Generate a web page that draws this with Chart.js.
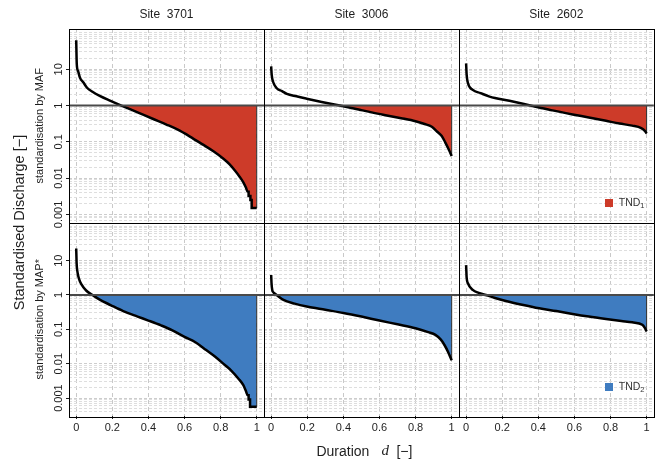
<!DOCTYPE html>
<html>
<head>
<meta charset="utf-8">
<script src="https://cdn.jsdelivr.net/npm/chart.js@4.4.1/dist/chart.umd.min.js"></script>
<style>
  html, body { margin: 0; padding: 0; background: #fff; }
  #wrap { width: 657px; height: 462px; }
</style>
</head>
<body>
<div id="wrap"><canvas id="fdc" width="657" height="462"></canvas></div>
<script>
// columns and rows of the grid
const sites = ["3701", "3006", "2602"];
const rowLabels = ["standardisation by MAF", "standardisation by MAP*"];
const legendLabels = ["TND", "TND"];
const legendSubs = ["1", "2"];

// flow duration curves, standardised by MAF (top row)
const d3701maf = [0, 0.003, 0.01, 0.021, 0.04, 0.06, 0.09, 0.13, 0.19, 0.25, 0.34, 0.42, 0.5, 0.56, 0.63, 0.7, 0.76, 0.81, 0.85, 0.88, 0.905, 0.925, 0.94, 0.95, 0.955, 0.955, 0.965, 0.965, 0.972, 0.972, 1.0];
const q3701maf = [63, 14, 9, 5.8, 4.3, 3.1, 2.4, 1.85, 1.35, 1.0, 0.65, 0.44, 0.3, 0.22, 0.14, 0.085, 0.055, 0.036, 0.024, 0.016, 0.011, 0.0078, 0.0055, 0.0042, 0.0042, 0.0032, 0.0032, 0.0025, 0.0025, 0.0015, 0.0015];

const d3006maf = [0, 0.003, 0.01, 0.031, 0.06, 0.087, 0.14, 0.197, 0.28, 0.38, 0.5, 0.62, 0.72, 0.8, 0.85, 0.89, 0.92, 0.945, 0.965, 0.985, 1.0];
const q3006maf = [12, 7, 4.6, 3.0, 2.5, 2.1, 1.8, 1.55, 1.26, 1.0, 0.75, 0.56, 0.45, 0.37, 0.31, 0.26, 0.19, 0.145, 0.095, 0.06, 0.041];

const d2602maf = [0, 0.003, 0.01, 0.037, 0.08, 0.13, 0.24, 0.35, 0.47, 0.59, 0.68, 0.775, 0.85, 0.92, 0.97, 0.99, 1.0];
const q2602maf = [14.5, 7, 4.2, 2.7, 2.2, 1.77, 1.35, 1.02, 0.75, 0.57, 0.47, 0.38, 0.32, 0.28, 0.24, 0.2, 0.17];

// flow duration curves, standardised by MAP* (bottom row)
const d3701map = [0, 0.002, 0.006, 0.015, 0.03, 0.055, 0.09, 0.13, 0.19, 0.26, 0.34, 0.4, 0.47, 0.53, 0.6, 0.66, 0.72, 0.77, 0.82, 0.86, 0.9, 0.925, 0.94, 0.95, 0.955, 0.955, 0.963, 0.963, 1.0];
const q3701map = [22.6, 9, 5, 3.0, 2.0, 1.35, 1.0, 0.73, 0.51, 0.34, 0.235, 0.18, 0.13, 0.095, 0.06, 0.042, 0.025, 0.016, 0.0095, 0.0062, 0.0036, 0.0024, 0.0016, 0.0012, 0.0012, 0.0009, 0.0009, 0.00056, 0.00056];

const d3006map = [0, 0.002, 0.006, 0.015, 0.03, 0.068, 0.13, 0.197, 0.3, 0.4, 0.5, 0.6, 0.7, 0.8, 0.87, 0.91, 0.94, 0.96, 0.98, 1.0];
const q3006map = [3.8, 2.2, 1.4, 1.15, 1.0, 0.72, 0.56, 0.46, 0.37, 0.3, 0.235, 0.18, 0.14, 0.108, 0.083, 0.069, 0.05, 0.035, 0.022, 0.0125];

const d2602map = [0, 0.003, 0.01, 0.037, 0.07, 0.11, 0.16, 0.22, 0.31, 0.405, 0.5, 0.59, 0.68, 0.775, 0.86, 0.92, 0.976, 0.99, 1.0];
const q2602map = [7.4, 3.2, 2.2, 1.4, 1.15, 1.0, 0.82, 0.67, 0.52, 0.41, 0.34, 0.28, 0.235, 0.2, 0.175, 0.16, 0.135, 0.11, 0.087];

// axis ticks
const durationTicks = [0, 0.2, 0.4, 0.6, 0.8, 1];
const decadeTicks = [0.001, 0.01, 0.1, 1, 10];

const fills = ["#cd3b29", "#3f7cc0"];
const font = "Liberation Sans";
const ink = "#1e1e1e";

const panels = [
  { col: 0, row: 0, d: d3701maf, q: q3701maf },
  { col: 1, row: 0, d: d3006maf, q: q3006maf },
  { col: 2, row: 0, d: d2602maf, q: q2602maf },
  { col: 0, row: 1, d: d3701map, q: q3701map },
  { col: 1, row: 1, d: d3006map, q: q3006map },
  { col: 2, row: 1, d: d2602map, q: q2602map }
];

const datasets = [];
panels.forEach(p => {
  const pts = p.d.map((d, i) => ({ x: d, y: p.q[i] }));
  const last = pts[pts.length - 1];
  datasets.push({
    data: pts,
    xAxisID: "x" + (p.col + 1),
    yAxisID: "y" + (p.row + 1),
    borderColor: "#000",
    borderWidth: 2.5,
    pointRadius: 0,
    cubicInterpolationMode: "monotone",
    fill: { value: 1, above: "rgba(0,0,0,0)", below: fills[p.row] },
    order: 0
  });
  // closing edge of the deficit area at d = 1
  datasets.push({
    data: [last, { x: last.x, y: 1 }],
    xAxisID: "x" + (p.col + 1),
    yAxisID: "y" + (p.row + 1),
    borderColor: "#2a2a2a",
    borderWidth: 1,
    pointRadius: 0,
    fill: false,
    order: 1
  });
});

// grid values for the log axes: decades plus 2..9 in between
function logGrid(lo, hi) {
  const out = [];
  for (let e = -4; e <= 2; e++) {
    for (let m = 1; m <= 9; m++) {
      const dec = decadeTicks.find(t => Math.abs(Math.log10(t) - e) < 1e-9);
      const v = (m === 1 && dec !== undefined) ? dec : m * Math.pow(10, e);
      if (v >= lo && v <= hi) out.push({ value: v });
    }
  }
  return out;
}

function xAxis(n) {
  return {
    type: "linear",
    position: "bottom",
    stack: "dur",
    stackWeight: 1,
    min: -0.04,
    max: 1.04,
    afterBuildTicks: s => { s.ticks = durationTicks.map(v => ({ value: v })); },
    afterFit: s => { s.height = 46; },
    grid: { color: "#c9c9c9", lineWidth: 1, tickLength: 3, tickColor: ink },
    border: { display: false, dash: [4, 3] },
    ticks: {
      autoSkip: false, maxRotation: 0, padding: 2, color: ink,
      font: { family: font, size: 11 },
      callback: v => String(v)
    }
  };
}

function yAxis(row, lo, hi) {
  return {
    type: "logarithmic",
    position: "left",
    stack: "q",
    stackWeight: 1,
    weight: 2 - row,
    min: lo,
    max: hi,
    afterBuildTicks: s => { s.ticks = logGrid(lo, hi); },
    afterFit: s => { s.width = 69; },
    grid: {
      lineWidth: 1,
      tickLength: 3,
      color: c => decadeTicks.includes(c.tick.value) ? "#cdcdcd" : "#dedede",
      tickColor: c => decadeTicks.includes(c.tick.value) ? ink : "rgba(0,0,0,0)"
    },
    border: { display: false, dash: [3, 2] },
    title: {
      display: true,
      text: rowLabels[row],
      color: ink,
      font: { family: font, size: 11 },
      padding: { top: 33, bottom: 0 }
    },
    ticks: {
      autoSkip: false, minRotation: 90, maxRotation: 90, crossAlign: "center",
      padding: -7, color: ink,
      font: { family: font, size: 11 },
      callback: v => decadeTicks.includes(v) ? String(v) : ""
    }
  };
}

const decor = {
  id: "decor",
  afterDatasetsDraw(chart) {
    const ctx = chart.ctx, area = chart.chartArea;
    ctx.save();
    ctx.strokeStyle = "#4a4a4a";
    ctx.lineWidth = 2;
    ["y1", "y2"].forEach(id => {
      const y = chart.scales[id].getPixelForValue(1);
      ctx.beginPath();
      ctx.moveTo(area.left, y);
      ctx.lineTo(area.right, y);
      ctx.stroke();
    });
    ctx.restore();
  },
  afterDraw(chart) {
    const ctx = chart.ctx, area = chart.chartArea, sc = chart.scales;
    ctx.save();

    // panel frames
    ctx.strokeStyle = "#000";
    ctx.lineWidth = 1;
    ["x1", "x2", "x3"].forEach(xi => {
      ["y1", "y2"].forEach(yi => {
        const xs = sc[xi], ys = sc[yi];
        ctx.strokeRect(Math.round(xs.left) + 0.5, Math.round(ys.top) + 0.5,
          Math.round(xs.right - xs.left), Math.round(ys.bottom - ys.top));
      });
    });

    ctx.fillStyle = ink;
    ctx.textBaseline = "middle";

    // site titles
    ctx.textAlign = "center";
    ctx.font = "12px '" + font + "'";
    sites.forEach((s, i) => {
      const xs = sc["x" + (i + 1)];
      ctx.fillText("Site  " + s, (xs.left + xs.right) / 2, 15);
    });

    // overall y label
    ctx.save();
    ctx.translate(20, (area.top + area.bottom) / 2);
    ctx.rotate(-Math.PI / 2);
    ctx.font = "14.5px '" + font + "'";
    ctx.fillText("Standardised Discharge [\u2212]", 0, 0);
    ctx.restore();

    // x label: Duration  d  [-]
    const mid = (sc.x2.left + sc.x2.right) / 2;
    ctx.textAlign = "left";
    ctx.font = "14px '" + font + "'";
    ctx.fillText("Duration", mid - 45, 452);
    ctx.font = "italic 15px 'Liberation Serif'";
    ctx.fillText("d", mid + 20, 451);
    ctx.font = "14px '" + font + "'";
    ctx.fillText("[\u2212]", mid + 35, 452);

    // legend keys inside the right-hand panels
    ["y1", "y2"].forEach((yi, r) => {
      const px = sc.x3.getPixelForValue(0.79);
      const py = sc[yi].getPixelForValue(0.0021);
      ctx.fillStyle = fills[r];
      ctx.fillRect(Math.round(px - 4), Math.round(py - 4), 8, 8);
      ctx.fillStyle = "#333";
      ctx.font = "10.5px '" + font + "'";
      ctx.fillText(legendLabels[r], px + 10, py);
      const w = ctx.measureText(legendLabels[r]).width;
      ctx.font = "7.5px '" + font + "'";
      ctx.fillText(legendSubs[r], px + 10 + w, py + 3);
    });

    ctx.restore();
  }
};

new Chart(document.getElementById("fdc"), {
  type: "line",
  data: { datasets: datasets },
  options: {
    responsive: false,
    animation: false,
    devicePixelRatio: 1,
    layout: { padding: { left: 0, top: 29, right: 3, bottom: 0 } },
    plugins: {
      legend: { display: false },
      tooltip: { enabled: false },
      filler: { drawTime: "beforeDatasetsDraw" }
    },
    scales: {
      x1: xAxis(1),
      x2: xAxis(2),
      x3: xAxis(3),
      y1: yAxis(0, Math.pow(10, -3.2), Math.pow(10, 2.11)),
      y2: yAxis(1, Math.pow(10, -3.51), Math.pow(10, 2.11))
    }
  },
  plugins: [decor]
});
</script>
</body>
</html>
